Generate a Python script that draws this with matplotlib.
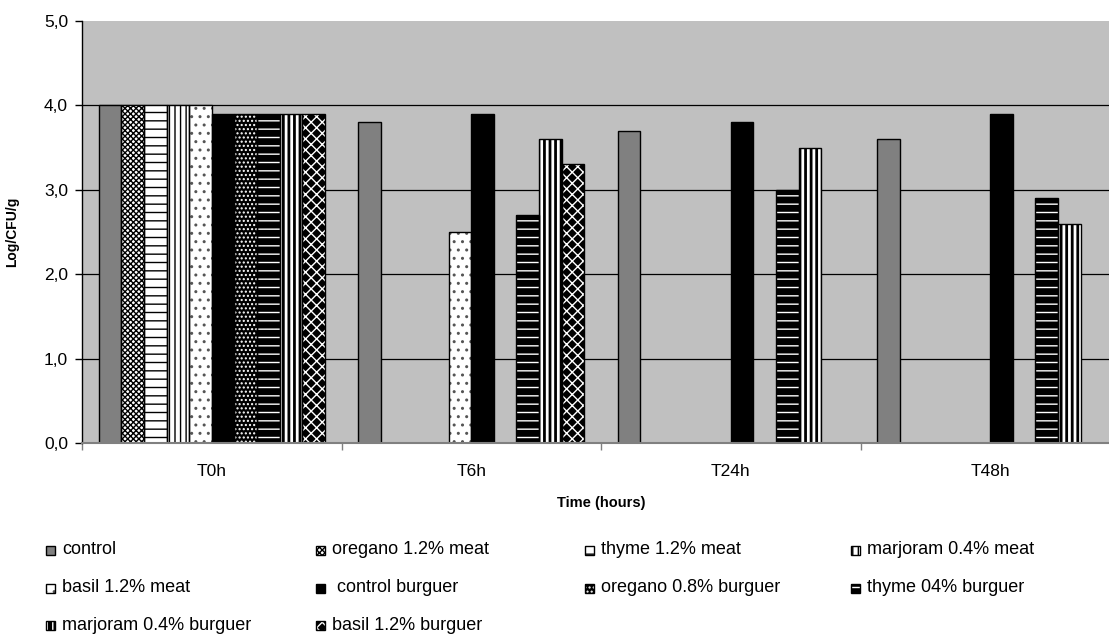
import numpy as np
import matplotlib.pyplot as plt
from matplotlib.patches import Rectangle

plt.rcParams['font.family'] = ['Liberation Sans', 'DejaVu Sans']
plt.rcParams['hatch.linewidth'] = 1.0

# Datos: log UFC/g por tiempo de almacenamiento
times = ['T0h', 'T6h', 'T24h', 'T48h']
series = ['control', 'oregano 1.2% meat', 'thyme 1.2% meat', 'marjoram 0.4% meat',
          'basil 1.2% meat', ' control burguer', 'oregano 0.8% burguer',
          'thyme 04% burguer', 'marjoram 0.4% burguer', 'basil 1.2% burguer']
control = [4.0, 3.8, 3.7, 3.6]
oregano_meat = [4.0, np.nan, np.nan, np.nan]
thyme_meat = [4.0, np.nan, np.nan, np.nan]
marjoram_meat = [4.0, np.nan, np.nan, np.nan]
basil_meat = [4.0, 2.5, np.nan, np.nan]
control_burguer = [3.9, 3.9, 3.8, 3.9]
oregano_burguer = [3.9, np.nan, np.nan, np.nan]
thyme_burguer = [3.9, 2.7, 3.0, 2.9]
marjoram_burguer = [3.9, 3.6, 3.5, 2.6]
basil_burguer = [3.9, 3.3, np.nan, np.nan]
values = [control, oregano_meat, thyme_meat, marjoram_meat, basil_meat,
          control_burguer, oregano_burguer, thyme_burguer, marjoram_burguer,
          basil_burguer]
yticks = [0, 1, 2, 3, 4, 5]
ytick_labels = ['0,0', '1,0', '2,0', '3,0', '4,0', '5,0']

# relleno, trama, color de trama
styles = [
    ('#808080', '', 'black'),
    ('white', 'xxxxxx', 'black'),
    ('white', '--', 'black'),
    ('white', '|||', 'black'),
    ('white', '..', '#555555'),
    ('black', '', 'black'),
    ('black', '....', 'white'),
    ('black', '--', 'white'),
    ('black', '|||', 'white'),
    ('black', 'xxx', 'white'),
]

W, H = 1109, 634
fig = plt.figure(figsize=(W / 100, H / 100), dpi=100)
ax = fig.add_axes([82 / W, (H - 443) / H, 1038 / W, 422 / H])
ax.set_facecolor('#C0C0C0')

x = np.arange(len(times))
bw = 0.0871
start = -5 * bw

for i, vals in enumerate(values):
    face, hatch, hcol = styles[i]
    v = np.array(vals, dtype=float)
    ok = ~np.isnan(v)
    xs = x[ok] + start + (i + 0.5) * bw
    bars = ax.bar(xs, v[ok], bw, color=face, edgecolor=hcol, hatch=hatch,
                  linewidth=0, zorder=3)
    if i == 8:
        for b in bars:
            if hasattr(b, 'set_hatch_linewidth'):
                b.set_hatch_linewidth(2.0)
    ax.bar(xs, v[ok], bw, facecolor='none', edgecolor='black',
           linewidth=1.0, zorder=4)

ax.set_xlim(-0.5, 3.5)
ax.set_ylim(0, 5)
ax.hlines(yticks[1:-1], -0.5, 3.5, color='black', linewidth=0.9, zorder=2)

ax.set_yticks(yticks)
ax.set_yticklabels(ytick_labels)
ax.set_xticks(x)
ax.set_xticklabels(times)
ax.set_xticks([-0.5, 0.5, 1.5, 2.5], minor=True)
ax.tick_params(axis='y', direction='out', length=5, width=1, pad=5,
               labelsize=12.5, colors='black')
ax.tick_params(axis='x', which='major', length=0, pad=15, labelsize=12.5)
ax.tick_params(axis='x', which='minor', length=5, width=1, color='#808080')

for s in ['top', 'right']:
    ax.spines[s].set_visible(False)
ax.spines['left'].set_color('black')
ax.spines['left'].set_linewidth(1.0)
ax.spines['bottom'].set_color('#808080')
ax.spines['bottom'].set_linewidth(1.5)
ax.spines['bottom'].set_zorder(5)

fig.text(601 / W, 1 - 503 / H, 'Time (hours)', ha='center', va='center',
         fontsize=10.5, fontweight='bold')
fig.text(12 / W, 1 - 232 / H, 'Log/CFU/g', ha='center', va='center',
         rotation=90, fontsize=10, fontweight='bold')

# Leyenda en filas, como en la hoja de cálculo
col_x = [46, 316, 585, 851]
row_y = [550, 588, 625]
box = 9
for i, name in enumerate(series):
    face, hatch, hcol = styles[i]
    cx = col_x[i % 4]
    cy = row_y[i // 4]
    r1 = Rectangle((cx / W, 1 - (cy + box / 2) / H), box / W, box / H,
                   transform=fig.transFigure, facecolor=face, edgecolor=hcol,
                   hatch=hatch, linewidth=0)
    r2 = Rectangle((cx / W, 1 - (cy + box / 2) / H), box / W, box / H,
                   transform=fig.transFigure, facecolor='none',
                   edgecolor='black', linewidth=1.0)
    fig.add_artist(r1)
    fig.add_artist(r2)
    fig.text((cx + box + 7) / W, 1 - cy / H, name, ha='left', va='center',
             fontsize=13)

fig.savefig('out.png', dpi=100)
